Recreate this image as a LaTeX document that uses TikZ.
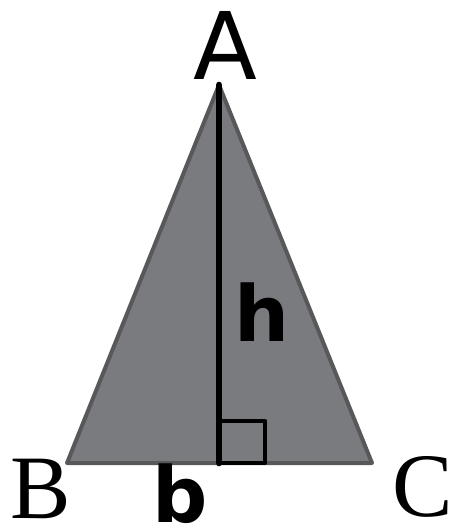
\documentclass[tikz,border=0pt]{standalone}
\usepackage{fontspec}
\setmainfont{Liberation Serif}
\newfontfamily\labelsans{DejaVu Sans}
\usetikzlibrary{calc}
\definecolor{trifill}{RGB}{122, 123, 127}
\definecolor{triedge}{RGB}{88, 88, 90}
\tikzset{
  vertexlabel/.style={inner sep=0pt, anchor=base, text depth=0pt, font=\fontsize{68}{68}\selectfont},
  sidelabel/.style={inner sep=0pt, anchor=base, text depth=0pt, font=\labelsans\bfseries\fontsize{58}{58}\selectfont},
  triangle/.style={fill=trifill, draw=triedge, line width=3pt, line join=round},
  height/.style={line width=5pt, line cap=round},
  rightangle/.style={line width=3.6pt, line join=round},
}
\begin{document}
\begin{tikzpicture}[x=0.75pt, y=-0.75pt]
  \useasboundingbox (0,0) rectangle (461,527);
  % vertices and foot of the height
  \coordinate (A) at (219,85);
  \coordinate (B) at (67,463);
  \coordinate (C) at (372,463);
  \coordinate (H) at (219,463);
  \draw[triangle] (A) -- (B) -- (C) -- cycle;
  \draw[height] (A) -- (H);
  \draw[rightangle] (H) rectangle ($(H)+(46,-42)$);
  % labels
  \node[vertexlabel, font=\labelsans\fontsize{70}{70}\selectfont] (lblA) at (225,80) {A};
  \node[vertexlabel] (lblB) at (41,518) {B};
  \node[vertexlabel] (lblC) at (423,516) {C};
  \node[sidelabel] (lblh) at (262,341) {h};
  \node[sidelabel] (lblb) at (180,522) {b};
\end{tikzpicture}
\end{document}
